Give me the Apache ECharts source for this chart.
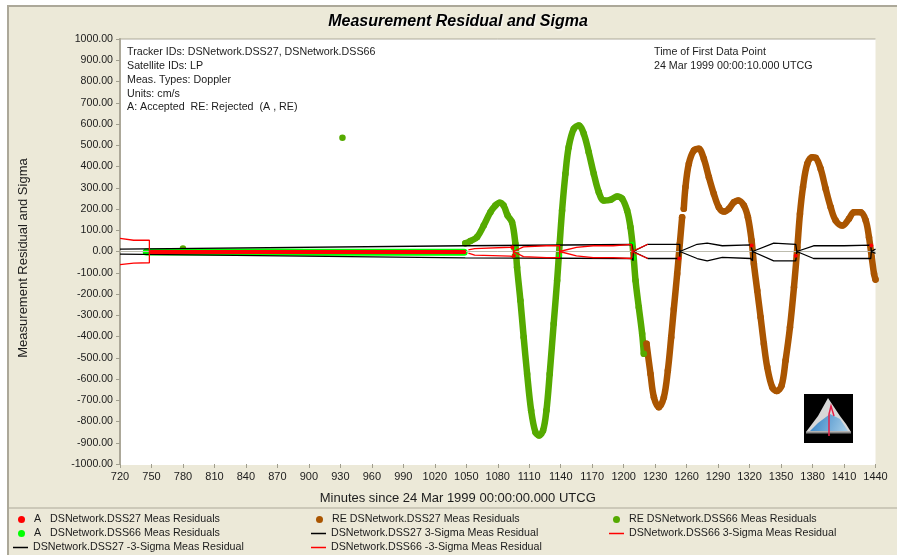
<!DOCTYPE html>
<html><head><meta charset="utf-8">
<style>html,body{margin:0;padding:0;background:#fff}#c{width:897px;height:555px}</style>
<script src="https://cdn.jsdelivr.net/npm/echarts@6/dist/echarts.min.js"></script>
</head><body><div id="c"></div>
<script>
const chartTitle = 'Measurement Residual and Sigma';
const xName = 'Minutes since 24 Mar 1999 00:00:00.000 UTCG';
const yName = 'Measurement Residual and Sigma';
const infoLeft = ['Tracker IDs: DSNetwork.DSS27, DSNetwork.DSS66','Satellite IDs: LP','Meas. Types: Doppler','Units: cm/s','A: Accepted  RE: Rejected  (A , RE)'];
const infoRight = ['Time of First Data Point','24 Mar 1999 00:00:10.000 UTCG'];

const re66Min = [780,781,932,933,1049.1,1053.9,1060.3,1066.6,1073,1077.7,1081.8,1085.6,1089.4,1093.6,1096.8,1098.4,1101.6,1104.7,1108,1111.8,1115.9,1119.4,1123.2,1126.4,1129.5,1133.3,1136.6,1139,1141.3,1144.5,1147.6,1152.4,1157.2,1162,1166.7,1171.5,1176.3,1181,1187.4,1193.8,1198.6,1203.3,1206.5,1209,1211.3,1214.4,1217.6,1219.2];
const re66Val = [14,null,535,null,39,49,68,122,185,216,229,216,169,138,36,-74,-231,-403,-576,-748,-850,-866,-842,-748,-576,-340,-136,36,193,366,491,577,593,554,467,366,279,240,243,259,248,193,114,5,-136,-262,-387,-481];

const re27Min = [1221.8,1225.6,1228.8,1233.5,1238.3,1242.1,1245.3,1247.8,1251,1253.5,1255.7,1256.5,1257.3,1258.9,1262.1,1266.9,1271.6,1276.4,1281.2,1285.9,1290.7,1295.5,1300.3,1305,1309.2,1314.6,1318.4,1321.9,1324.1,1327.3,1330.5,1333.6,1336.8,1341.6,1345.7,1350.5,1354.3,1358.5,1362.3,1365.5,1368,1370.9,1375,1379.8,1383,1387.7,1392.5,1397.3,1402,1408.4,1414.7,1419.5,1425.9,1430.7,1433.8,1436.4,1438.6,1440];
const re27Val = [-434,-576,-686,-733,-686,-560,-403,-270,-105,36,161,null,201,303,413,475,483,436,350,272,208,188,201,232,240,216,161,52,-58,-184,-309,-434,-544,-639,-657,-631,-513,-356,-168,20,177,303,413,444,441,389,295,208,146,122,154,185,185,146,67,-27,-105,-132];

const a66Min = [745,780,810,840,870,900,930,960,990,1020,1048,1049,1095,1096,1095.5,1096.5,1139,1140,1208,1209,1209.5];
const a66Val = [-2,-2,-2,-2,-2,-3,-3,-3,-3,-3,-3,null,15,null,-20,null,-20,null,34,null,-31];

const a27Min = [750,780,810,840,870,900,930,960,990,1020,1048,1049,1094,1095,1095.5,1096,1253,1254,1322,1323,1364,1365,1436];
const a27Val = [-2,-2,-2,-2,-2,-2,-2,-2,-2,-2,-2,null,19,null,-20,null,-33,null,28,null,-20,null,28];

const s27PosMin = [720,1049,1208,1209,1209,1223,1253.5,1253.5,1270,1279.6,1294,1321,1322.8,1322.8,1343,1364,1365,1381,1410,1435.5,1436,1440];
const s27PosVal = [11,27,33,40,0,34,34,0,34,39,27,31,34,0,39,34,0,27,27,30,0,11];
const s27NegMin = [720,1049,1208,1209,1209,1223,1253.5,1253.5,1270,1279.6,1294,1321,1322.8,1322.8,1343,1364,1365,1381,1410,1435.5,1436,1440];
const s27NegVal = [-12,-30,-33,-44,0,-33,-33,0,-33,-44,-28,-33,-44,0,-44,-44,0,-33,-33,-33,0,-9];

const s66PosMin = [720,733,748,748,748.5,1050,1052,1058,1092,1095,1095,1104.5,1126.4,1139,1139,1155,1171,1190,1207.5,1208,1208,1223];
const s66PosVal = [62,53,53,0,null,null,8,14,20,24,0,22,27,27,0,19,27,27,34,34,0,34];
const s66NegMin = [720,733,748,748,748.5,1050,1052,1058,1092,1095,1095,1104.5,1126.4,1139,1139,1155,1171,1190,1207.5,1208,1208,1223];
const s66NegVal = [-62,-55,-53,0,null,null,-8,-17,-22,-26,0,-24,-29,-29,0,-21,-29,-29,-33,-33,0,-33];

const xTickStep = 30, yTickStep = 100;

const zip = (m, v) => m.map((x, i) => [x, v[i]]);
const FONT = '"Liberation Sans", Arial, sans-serif';
const TXT = '#1c1c1c';

const lineSer = (name, m, v, color) => ({
  name, type: 'line', data: zip(m, v), symbol: 'none', connectNulls: false,
  lineStyle: { color, width: 1.3 }, itemStyle: { color }, z: 5
});
const dotSer = (name, m, v, color, w, sz, z, smooth) => ({
  name, type: 'line', data: zip(m, v), symbol: 'circle', symbolSize: sz, showSymbol: true,
  showAllSymbol: true, connectNulls: false, clip: false, z, smooth: smooth || false,
  lineStyle: { color, width: w, cap: 'round', join: 'round' }, itemStyle: { color }
});

const N = {
  a27: 'A   DSNetwork.DSS27 Meas Residuals', a66: 'A   DSNetwork.DSS66 Meas Residuals',
  re27: 'RE DSNetwork.DSS27 Meas Residuals', re66: 'RE DSNetwork.DSS66 Meas Residuals',
  p27: 'DSNetwork.DSS27 3-Sigma Meas Residual', p66: 'DSNetwork.DSS66 3-Sigma Meas Residual',
  n27: 'DSNetwork.DSS27 -3-Sigma Meas Residual', n66: 'DSNetwork.DSS66 -3-Sigma Meas Residual'
};
const leg = (name, left, top, dot) => ({
  show: true, data: [name], left, top, orient: 'horizontal', padding: 0, selectedMode: false,
  itemWidth: 15, itemHeight: dot ? 7 : 1.5, icon: dot ? 'circle' : 'rect',
  textStyle: { fontFamily: FONT, fontSize: 10.7, color: TXT }
});
const infoText = (lines, x, y0) => lines.map((t, i) => ({
  type: 'text', x, y: y0 + i * 13.7, z: 100,
  style: { text: t, fontFamily: FONT, fontSize: 10.7, fill: TXT, verticalAlign: 'middle' }
}));

const chart = echarts.init(document.getElementById('c'), null, { renderer: 'canvas' });
const zeroSer = dotSer(N.a66, a66Min, a66Val, '#00ff00', 7, 5, 3);
zeroSer.markLine = { silent: true, symbol: 'none', animation: false, label: { show: false },
  lineStyle: { color: '#bdbcae', width: 1, type: 'solid' }, data: [{ yAxis: 0 }] };

chart.setOption({
  animation: false,
  backgroundColor: '#ffffff',
  grid: { left: 120, right: 21.5, top: 39, height: 425, containLabel: false },
  xAxis: {
    type: 'value', min: 720, max: 1440, interval: xTickStep, name: xName, nameLocation: 'middle', nameGap: 28,
    nameTextStyle: { fontFamily: FONT, fontSize: 13, color: TXT, padding: [0, 80, 0, 0] },
    axisLine: { show: false, onZero: false }, splitLine: { show: false },
    axisTick: { show: true, length: 4, lineStyle: { color: '#a09e8e' } },
    axisLabel: { fontFamily: FONT, fontSize: 11, color: TXT, margin: 7, formatter: v => String(v), showMinLabel: true, showMaxLabel: true }
  },
  yAxis: {
    type: 'value', min: -1000, max: 1000, interval: yTickStep, name: yName, nameLocation: 'middle', nameGap: 90, nameRotate: 90,
    nameTextStyle: { fontFamily: FONT, fontSize: 13, color: TXT, padding: [0, 13, 0, 0] },
    axisLine: { show: true, lineStyle: { color: '#aca899', width: 2 } }, splitLine: { show: false },
    axisTick: { show: true, length: 4, lineStyle: { color: '#a09e8e' } },
    axisLabel: { fontFamily: FONT, fontSize: 10.6, color: TXT, margin: 7, formatter: v => v.toFixed(2), showMinLabel: true, showMaxLabel: true }
  },
  legend: [
    leg(N.a27, 18, 514, true), leg(N.re27, 316, 514, true), leg(N.re66, 613, 514, true),
    leg(N.a66, 18, 528, true), leg(N.p27, 311, 528, false), leg(N.p66, 609, 528, false),
    leg(N.n27, 13, 542, false), leg(N.n66, 311, 542, false)
  ],
  series: [
    dotSer(N.re66, re66Min, re66Val, '#55aa00', 6.5, 6.5, 2, 0.35),
    dotSer(N.re27, re27Min, re27Val, '#aa5500', 6.5, 6.5, 2, 0.35),
    zeroSer,
    lineSer(N.p27, s27PosMin, s27PosVal, '#000000'),
    lineSer(N.n27, s27NegMin, s27NegVal, '#000000'),
    lineSer(N.p66, s66PosMin, s66PosVal, '#ff0000'),
    lineSer(N.n66, s66NegMin, s66NegVal, '#ff0000'),
    dotSer(N.a27, a27Min, a27Val, '#ff0000', 4, 4, 6)
  ],
  graphic: [
    { type: 'rect', z: -10, shape: { x: 8, y: 6, width: 895, height: 555 }, style: { fill: '#ece9d8', stroke: '#aca899', lineWidth: 2 }, silent: true },
    { type: 'rect', z: -9, shape: { x: 120, y: 39, width: 755.5, height: 426 }, style: { fill: '#ffffff' }, silent: true },
    { type: 'line', z: -8, shape: { x1: 119, y1: 39, x2: 875.5, y2: 39 }, style: { stroke: '#aca899', lineWidth: 1 }, silent: true },
    { type: 'line', z: -8, shape: { x1: 8, y1: 508, x2: 897, y2: 508 }, style: { stroke: '#aca899', lineWidth: 1 }, silent: true },
    { type: 'text', x: 458, y: 22, z: 100, style: { text: chartTitle, fontFamily: FONT, fontSize: 16, fontWeight: 'bold', fontStyle: 'italic', fill: '#000', align: 'center', verticalAlign: 'middle', textShadowColor: '#fff', textShadowBlur: 2, textShadowOffsetX: 1, textShadowOffsetY: 1 } },
    ...infoText(infoLeft, 127, 52.5),
    ...infoText(infoRight, 654, 52.5),
    { type: 'group', z: 100, x: 804, y: 394, children: [
      { type: 'rect', z: 100, shape: { x: 0, y: 0, width: 49, height: 49 }, style: { fill: '#000' } },
      { type: 'polygon', z: 101, shape: { points: [[24,4],[30,13],[36,22],[42,30],[47,38],[2,38],[8,30],[14,22],[19,13]] }, style: { fill: '#d8d8d8' } },
      { type: 'polygon', z: 102, shape: { points: [[26,20],[36,25],[44,37],[6,37],[14,29]] }, style: { fill: new echarts.graphic.LinearGradient(0,0,1,1,[{offset:0,color:'#2f7fc4'},{offset:1,color:'#a9cfe8'}]) } },
      { type: 'line', z: 103, shape: { x1: 2, y1: 38.5, x2: 47, y2: 38.5 }, style: { stroke: '#8a8a8a', lineWidth: 2 } },
      { type: 'polyline', z: 104, shape: { points: [[25,42],[25,20],[27,12],[30,22]] }, style: { stroke: '#e8204a', lineWidth: 1.5, fill: 'none' } }
    ] }
  ]
});
</script></body></html>
